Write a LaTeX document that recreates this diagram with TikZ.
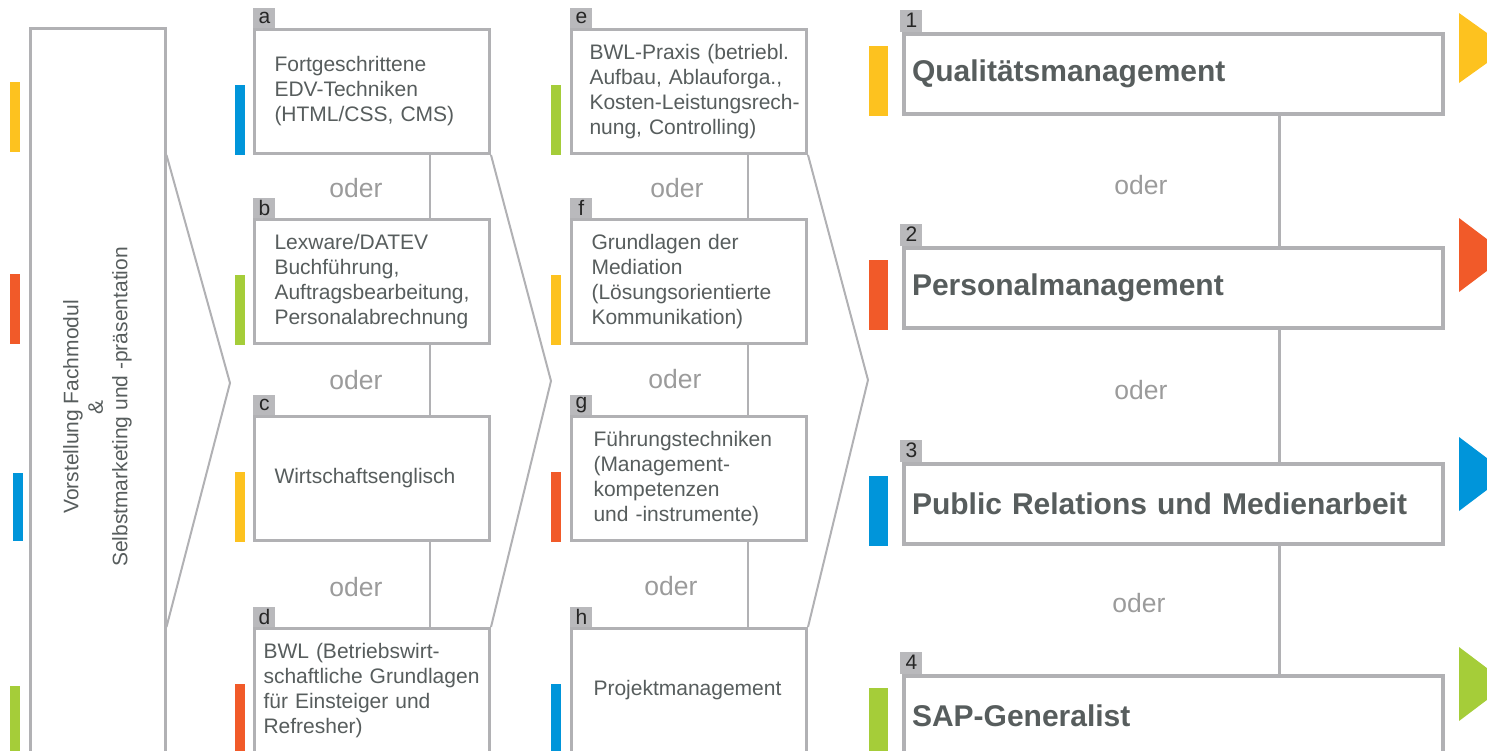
\documentclass[tikz,border=0pt]{standalone}
\usepackage{fontspec}
\setmainfont{Liberation Sans}

\definecolor{frame}{HTML}{B1B1B4}
\definecolor{tabgray}{HTML}{B9B9BC}
\definecolor{txt}{HTML}{575D5D}
\definecolor{odergray}{HTML}{9B9B9B}
\definecolor{bgold}{HTML}{FDC21F}
\definecolor{bred}{HTML}{F15A29}
\definecolor{bblue}{HTML}{0095DA}
\definecolor{bgreen}{HTML}{A5CD39}

\begin{document}
\begin{tikzpicture}[x=0.5pt,y=-0.5pt,
    box/.style={draw=frame,line width=1.5pt,fill=white,anchor=north west,
        minimum width=117.5pt,minimum height=62pt,text width=97.5pt,
        inner xsep=10pt,inner ysep=2pt,align=left,text=txt,
        font=\fontsize{10.5}{12.5}\selectfont},
    role/.style={box,line width=2pt,minimum width=269.5pt,minimum height=40pt,
        text width=261.5pt,inner xsep=4pt,font=\bfseries\fontsize{15}{18}\selectfont},
    tab/.style={fill=tabgray,anchor=south west,minimum width=11pt,minimum height=10pt,
        inner sep=0pt,text=black!85,font=\fontsize{10.5}{10.5}\selectfont},
    oder/.style={text=odergray,font=\fontsize{13.25}{13.25}\selectfont},
    link/.style={draw=frame,line width=1pt}]
    \useasboundingbox (0,0) rectangle (1487,750);

    % linke Farbleiste
    \fill[bgold] (10,82) rectangle (20,152);
    \fill[bred] (10,274) rectangle (20,344);
    \fill[bblue] (13,473) rectangle (23,541);
    \fill[bgreen] (10,686) rectangle (20,756);

    % Einstieg
    \node[draw=frame,line width=1.5pt,minimum width=67.5pt,minimum height=379pt] (intro) at (97.5,407) {};
    \node[rotate=90,align=center,text=txt,font=\fontsize{10.5}{12.25}\selectfont] (introtxt) at (intro.center)
        {Vorstellung Fachmodul\\\&\\Selbstmarketing und -präsentation};

    % erste Spalte
    \node[box] (a) at (253,28) {Fortgeschrittene\\EDV-Techniken\\(HTML/CSS, CMS)};
    \node[box] (b) at (253,218) {Lexware/DATEV\\Buchführung,\\Auftragsbearbeitung,\\Personalabrechnung};
    \node[box] (c) at (253,415) {Wirtschaftsenglisch};
    \node[box,inner xsep=4.5pt,text width=108.5pt] (d) at (253,627) {BWL (Betriebswirt-\\schaftliche Grundlagen\\für Einsteiger und\\Refresher)};
    \node[tab] (ta) at (a.north west) {a};
    \node[tab] (tb) at (b.north west) {b};
    \node[tab] (tc) at (c.north west) {c};
    \node[tab] (td) at (d.north west) {d};
    \fill[bblue] ([xshift=-9pt]a.south west) rectangle ++(10,-70);
    \fill[bgreen] ([xshift=-9pt]b.south west) rectangle ++(10,-70);
    \fill[bgold] ([xshift=-9pt]c.south west) rectangle ++(10,-70);
    \fill[bred] ([xshift=-9pt]d.south west) rectangle ++(10,-70);
    \coordinate (linkA) at (430,0);
    \draw[link] (a.south -| linkA) -- (b.north -| linkA);
    \draw[link] (b.south -| linkA) -- (c.north -| linkA);
    \draw[link] (c.south -| linkA) -- (d.north -| linkA);
    \node[oder] (oa) at (356,188) {oder};
    \node[oder] (ob) at (356,380) {oder};
    \node[oder] (oc) at (356,587) {oder};

    % zweite Spalte
    \node[box,inner xsep=9pt,text width=99.5pt] (e) at (570,28) {\mbox{BWL-Praxis (betriebl.}\\\mbox{Aufbau, Ablauforga.,}\\\mbox{Kosten-Leistungsrech-}\\\mbox{nung, Controlling)}};
    \node[box] (f) at (570,218) {Grundlagen der\\Mediation\\(Lösungsorientierte\\Kommunikation)};
    \node[box,inner xsep=11pt,text width=95.5pt] (g) at (570,415) {Führungstechniken\\(Management-\\kompetenzen\\und -instrumente)};
    \node[box,inner xsep=11pt,text width=95.5pt] (h) at (570,627) {Projektmanagement};
    \node[tab] (te) at (e.north west) {e};
    \node[tab] (tf) at (f.north west) {f};
    \node[tab] (tg) at (g.north west) {g};
    \node[tab] (th) at (h.north west) {h};
    \fill[bgreen] ([xshift=-9.5pt]e.south west) rectangle ++(10,-70);
    \fill[bgold] ([xshift=-9.5pt]f.south west) rectangle ++(10,-70);
    \fill[bred] ([xshift=-9.5pt]g.south west) rectangle ++(10,-70);
    \fill[bblue] ([xshift=-9.5pt]h.south west) rectangle ++(10,-70);
    \coordinate (linkB) at (748,0);
    \draw[link] (e.south -| linkB) -- (f.north -| linkB);
    \draw[link] (f.south -| linkB) -- (g.north -| linkB);
    \draw[link] (g.south -| linkB) -- (h.north -| linkB);
    \node[oder] (od) at (677,188) {oder};
    \node[oder] (oe) at (675,379) {oder};
    \node[oder] (of) at (671,586) {oder};

    % Fachmodule
    \node[role] (r1) at (902,32) {Qualitätsmanagement};
    \node[role] (r2) at (902,246) {Personalmanagement};
    \node[role] (r3) at (902,462) {Public Relations und Medienarbeit};
    \node[role] (r4) at (902,674) {SAP-Generalist};
    \node[tab,minimum height=11pt] (t1) at ([xshift=-1pt]r1.north west) {1};
    \node[tab,minimum height=11pt] (t2) at ([xshift=-1pt]r2.north west) {2};
    \node[tab,minimum height=11pt] (t3) at ([xshift=-1pt]r3.north west) {3};
    \node[tab,minimum height=11pt] (t4) at ([xshift=-1pt]r4.north west) {4};
    \fill[bgold] ([xshift=-16.5pt]r1.south west) rectangle ++(19,-70);
    \fill[bred] ([xshift=-16.5pt]r2.south west) rectangle ++(19,-70);
    \fill[bblue] ([xshift=-16.5pt]r3.south west) rectangle ++(19,-70);
    \fill[bgreen] ([xshift=-16.5pt]r4.south west) rectangle ++(19,-70);
    \coordinate (linkC) at (1279,0);
    \draw[link,line width=1.5pt] (r1.south -| linkC) -- (r2.north -| linkC);
    \draw[link,line width=1.5pt] (r2.south -| linkC) -- (r3.north -| linkC);
    \draw[link,line width=1.5pt] (r3.south -| linkC) -- (r4.north -| linkC);
    \node[oder] (og) at (1141,185) {oder};
    \node[oder] (oh) at (1141,390) {oder};
    \node[oder] (oi) at (1139,603) {oder};

    % Pfeilspitzen zwischen den Spalten
    \coordinate (tip1) at (230,383);
    \coordinate (tip2) at (551,381);
    \coordinate (tip3) at (868,380);
    \draw[link] (intro.east |- a.south) -- (tip1) -- (intro.east |- d.north);
    \draw[link] (a.south east) -- (tip2) -- (d.north east);
    \draw[link] (e.south east) -- (tip3) -- (h.north east);

    % Dreiecke rechts
    \fill[bgold] (1459,13) -- (1508,48) -- (1459,83) -- cycle;
    \fill[bred] (1459,218) -- (1508,255) -- (1459,292) -- cycle;
    \fill[bblue] (1459,437) -- (1508,474) -- (1459,511) -- cycle;
    \fill[bgreen] (1459,647) -- (1508,684) -- (1459,721) -- cycle;
\end{tikzpicture}
\end{document}
